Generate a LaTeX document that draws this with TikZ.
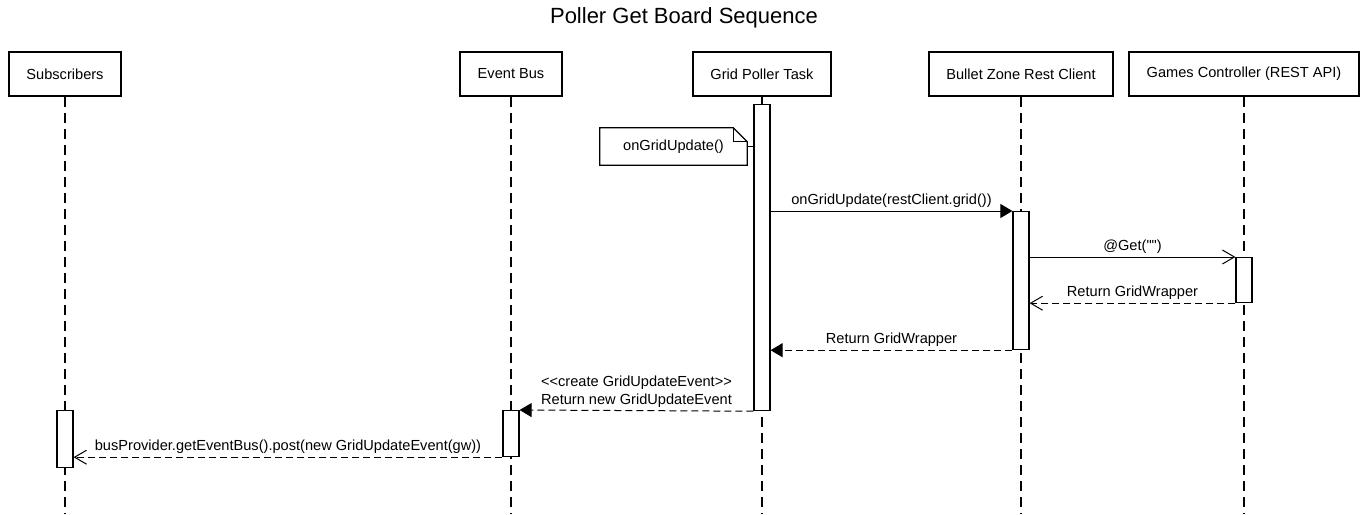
\documentclass[tikz,border=0pt]{standalone}
\usepackage{fontspec}
\setmainfont{Liberation Sans}[Ligatures=TeXOff]
\usetikzlibrary{positioning, arrows.meta}

\begin{document}
\begin{tikzpicture}[x=1pt, y=-1pt,
  every node/.style={font=\fontsize{14.6}{18}\selectfont},
  actor node/.style={rectangle,draw,line width=2.4pt,minimum height=44pt,inner xsep=17.5pt},
  bar node/.style={rectangle,draw,fill=white,line width=1.2pt,minimum width=16pt,inner sep=0pt,anchor=north},
  life line/.style={line width=1.2pt,dash pattern=on 10pt off 6pt},
  call/.style={line width=1pt,-{Triangle[length=12pt,width=14pt]}},
  async/.style={line width=1pt,-{Straight Barb[length=12pt,width=14pt]}},
  reply/.style={async,dash pattern=on 7pt off 4pt},
  replyf/.style={call,dash pattern=on 7pt off 4pt},
  msg/.style={above=1pt,inner sep=2pt}]

\useasboundingbox (0,0) rectangle (1367,514);
\coordinate (bottom) at (0,514);

\node[font=\fontsize{22}{26}\selectfont] (title) at (684,18) {Poller Get Board Sequence};

% participants
\node[actor node] (subs) at (65,74) {Subscribers};
\node[actor node] (bus) at (511,74) {Event Bus};
\node[actor node] (poller) at (762,74) {Grid Poller Task};
\node[actor node] (client) at (1021,74) {Bullet Zone Rest Client};
\node[actor node] (games) at (1244,74) {Games Controller (REST API)};

\foreach \p in {subs,bus,poller,client,games}
  \draw[life line] (\p.south) -- (\p.south |- bottom);

% activations
\node[bar node, minimum height=306pt] (pollerAct) at (762,104) {};
\node[bar node, minimum height=138pt] (clientAct) at (1021,211) {};
\node[bar node, minimum height=45pt] (gamesAct) at (1244,257) {};
\node[bar node, minimum height=46pt] (busAct) at (511,410) {};
\node[bar node, minimum height=57pt] (subsAct) at (65,410) {};

% note
\node[minimum width=147pt, minimum height=37pt, inner sep=0pt] (note) at (673.5,146.5) {onGridUpdate()};
\draw[line width=1.2pt] (note.north west) -- ([xshift=-14pt]note.north east)
  -- ([yshift=-14pt]note.north east) -- (note.south east) -- (note.south west) -- cycle;
\draw[line width=1pt] ([xshift=-14pt]note.north east) |- ([yshift=-14pt]note.north east);
\draw[line width=1pt] (note.east) -- (pollerAct.west |- note.east);

% messages
\draw[call] (pollerAct.east |- clientAct.north) -- node[msg] {onGridUpdate(restClient.grid())} (clientAct.north west);
\draw[async] (clientAct.east |- gamesAct.north) -- node[msg] {@Get("")} (gamesAct.north west);
\draw[reply] (gamesAct.south west) -- node[msg] {Return GridWrapper} (clientAct.east |- gamesAct.south);
\draw[replyf] (clientAct.south west) -- node[msg] {Return GridWrapper} (pollerAct.east |- clientAct.south);
\draw[replyf] (pollerAct.south west) -- node[msg, align=left] {<<create GridUpdateEvent>>\\Return new GridUpdateEvent} (busAct.north east);
\draw[reply] (busAct.south west) -- node[msg] {busProvider.getEventBus().post(new GridUpdateEvent(gw))} (subsAct.east |- busAct.south);
\end{tikzpicture}
\end{document}
